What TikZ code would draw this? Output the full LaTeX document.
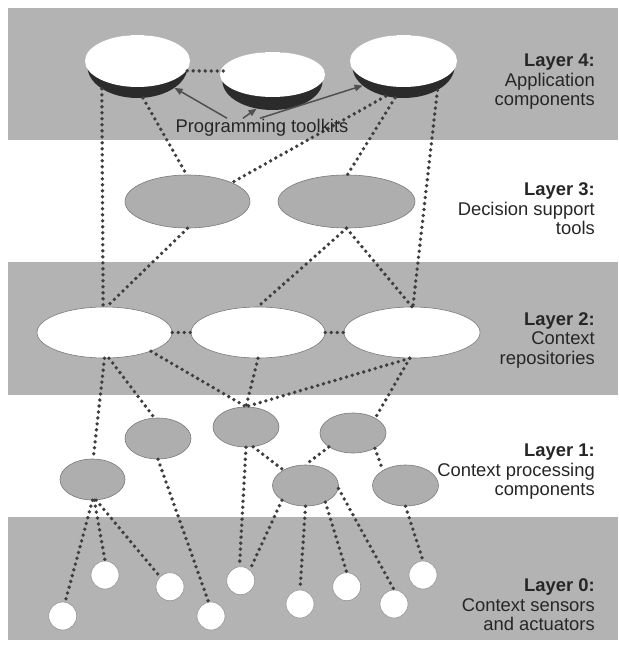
\documentclass[tikz,border=0pt]{standalone}
\usepackage{fontspec}
\setmainfont{Liberation Sans}
\usetikzlibrary{shapes.geometric,arrows.meta}
\definecolor{bandgray}{HTML}{B3B3B3}
\definecolor{dotgray}{HTML}{3E3E3E}
\definecolor{rimgray}{HTML}{2B2B2B}
\definecolor{edgegray}{HTML}{7A7A7A}
\definecolor{arrowgray}{HTML}{505050}

\begin{document}
\begin{tikzpicture}[x=1pt,y=-1pt,
    band/.style={fill=bandgray},
    disc/.style={ellipse,draw=edgegray,line width=0.6pt,inner sep=0pt},
    whitedisc/.style={disc,fill=white},
    graydisc/.style={disc,fill=bandgray!97!black},
    sensor/.style={circle,draw=edgegray!80,line width=0.6pt,fill=white,inner sep=0pt,minimum size=28pt},
    bowl/.style={ellipse,fill=rimgray,inner sep=0pt},
    bowltop/.style={ellipse,fill=white,inner sep=0pt},
    link/.style={draw=dotgray,line width=3.8pt,line cap=round,dash pattern=on 0pt off 6pt},
    toolarrow/.style={draw=arrowgray,line width=1.5pt,-{Triangle[length=8pt,width=6.5pt]}},
    layerlabel/.style={align=right,anchor=east,inner sep=0pt,text=black!85,
        font=\fontsize{18.4pt}{19.5pt}\selectfont}]
    \useasboundingbox (0,0) rectangle (618,647);
    \fill[band] (8,8) rectangle (618,140);
    \fill[band] (8,262) rectangle (618,395);
    \fill[band] (8,517) rectangle (618,640);

    \node[bowl,minimum width=100pt,minimum height=63pt] (E1) at (137.5,66.5) {};
    \node[bowltop,minimum width=105pt,minimum height=52pt] (E1top) at (137.5,61) {};
    \node[bowl,minimum width=100pt,minimum height=58pt] (E2) at (272.5,81) {};
    \node[bowltop,minimum width=105pt,minimum height=45pt] (E2top) at (272.5,74.5) {};
    \node[bowl,minimum width=102pt,minimum height=63pt] (E3) at (403.5,66.5) {};
    \node[bowltop,minimum width=107pt,minimum height=52pt] (E3top) at (403.5,61) {};

    \node[graydisc,minimum width=125pt,minimum height=53pt] (L3a) at (187.5,201.5) {};
    \node[graydisc,minimum width=137pt,minimum height=53pt] (L3b) at (346.5,201.5) {};

    \node[whitedisc,minimum width=135pt,minimum height=51pt] (A) at (104.5,332.5) {};
    \node[whitedisc,minimum width=134pt,minimum height=51pt] (B) at (258,332.5) {};
    \node[whitedisc,minimum width=136pt,minimum height=51pt] (C) at (412,332.5) {};

    \node[graydisc,minimum width=65pt,minimum height=41pt] (P1) at (92.5,479.5) {};
    \node[graydisc,minimum width=66pt,minimum height=41pt] (P2) at (158,438.5) {};
    \node[graydisc,minimum width=66pt,minimum height=40pt] (P3) at (246,427) {};
    \node[graydisc,minimum width=66pt,minimum height=40pt] (P4) at (353,433) {};
    \node[graydisc,minimum width=66pt,minimum height=41pt] (P5) at (305.5,485.5) {};
    \node[graydisc,minimum width=66pt,minimum height=41pt] (P6) at (405.5,485.5) {};

    \node[sensor] (S1) at (62.7,616) {};
    \node[sensor] (S2) at (105,575) {};
    \node[sensor] (S3) at (170,586.7) {};
    \node[sensor] (S4) at (211,616) {};
    \node[sensor] (S5) at (240.7,580.7) {};
    \node[sensor] (S6) at (300,604) {};
    \node[sensor] (S7) at (346.7,586.7) {};
    \node[sensor] (S8) at (394,604) {};
    \node[sensor] (S9) at (423,575) {};

    \draw[link] (E1.-5) -- (E2.168);
    \draw[link] (E1.-148) -- (A.93);
    \draw[link] (E1.-80) -- (L3a.92);
    \draw[link] (E3.-121) -- (L3a.23);
    \draw[link] (E3.-105) -- (L3b.88);
    \draw[link] (E3.-35) -- (C.88);
    \draw[link] (L3a.south) -- (A.85);
    \draw[link] (L3b.south) -- (B.north);
    \draw[link] (L3b.south) -- (C.north);
    \draw[link] (A.east) -- (B.west);
    \draw[link] (B.east) -- (C.west);
    \draw[link] (A.south) -- (P1.88);
    \draw[link] (A.-80) -- (P2.100);
    \draw[link] (A.-22) -- (P3.north);
    \draw[link] (B.south) -- (P3.north);
    \draw[link] (C.-95) -- (P3.north);
    \draw[link] (C.-95) -- (P4.34);
    \draw[link] (P1.south) -- (S1.80);
    \draw[link] (P1.-85) -- (S2.north);
    \draw[link] (P1.-80) -- (S3.135);
    \draw[link] (P2.south) -- (S4.100);
    \draw[link] (P3.south) -- (S5.95);
    \draw[link] (P3.-70) -- (P5.145);
    \draw[link] (P4.-150) -- (P5.north);
    \draw[link] (P4.-35) -- (P6.146);
    \draw[link] (P5.-148) -- (S5.50);
    \draw[link] (P5.south) -- (S6.north);
    \draw[link] (P5.-40) -- (S7.north);
    \draw[link] (P5.-5) -- (S8.north);
    \draw[link] (P6.south) -- (S9.north);

    \node[inner sep=1pt,text=black!85,font=\fontsize{18.4pt}{19.5pt}\selectfont] (ptk) at (262,128) {Programming toolkits};
    \draw[toolarrow] ([xshift=-35pt]ptk.north) -- (E1.-30);
    \draw[toolarrow] ([xshift=-19pt]ptk.north) -- (E2.-120);
    \draw[toolarrow] ([xshift=-2pt]ptk.north) -- (E3.-155);

    \node[layerlabel] (lab4) at (595,82) {\textbf{Layer 4:}\\Application\hspace*{5pt}\\components};
    \node[layerlabel] (lab3) at (595,209) {\textbf{Layer 3:}\\Decision support\\tools};
    \node[layerlabel] (lab2) at (595,340) {\textbf{Layer 2:}\\Context\hspace*{6pt}\\repositories};
    \node[layerlabel] (lab1) at (595,472) {\textbf{Layer 1:}\\Context processing\\components};
    \node[layerlabel] (lab0) at (595,605) {\textbf{Layer 0:}\\Context sensors\\and actuators};
\end{tikzpicture}
\end{document}
